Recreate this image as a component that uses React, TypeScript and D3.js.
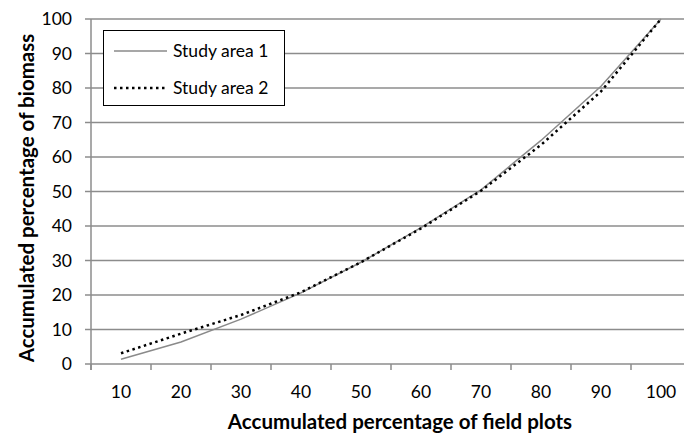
import React from 'react';
import { scaleBand, scaleLinear, line, range } from 'd3';

const categories = ['10', '20', '30', '40', '50', '60', '70', '80', '90', '100'];
const studyArea1 = [1.4, 6.4, 13.0, 20.6, 29.5, 39.5, 50.5, 64.8, 80.5, 100];
const studyArea2 = [3.1, 8.8, 14.2, 20.8, 29.5, 39.3, 50.2, 63.5, 79.0, 100];
const yTicks = range(0, 101, 10);
const seriesNames = ['Study area 1', 'Study area 2'];

const FONT = 'Lato, "Open Sans", sans-serif';

export default function App() {
  const margin = { top: 19, left: 91 };
  const width = 600, height = 345;

  const x = scaleBand().domain(categories).range([margin.left, margin.left + width]);
  const y = scaleLinear().domain([0, 100]).range([margin.top + height, margin.top]);

  const mkLine = (vals: number[]) =>
    line<number>()
      .x((_, i) => (x(categories[i]) as number) + x.bandwidth() / 2)
      .y((d) => y(d))(vals) as string;

  const gridColor = '#8c8c8c';

  return (
    <svg width={684} height={434} style={{ position: 'absolute', left: 0, top: 0, background: '#fff' }}>
      {/* horizontal gridlines + y ticks */}
      {yTicks.map((t) => (
        <g key={t}>
          {t > 0 && <line x1={margin.left} x2={684} y1={y(t)} y2={y(t)} stroke={gridColor} strokeWidth={1.5} />}
          <line x1={margin.left - 6} x2={margin.left} y1={y(t)} y2={y(t)} stroke={gridColor} strokeWidth={1.5} />
          <text x={72} y={y(t)} dy="0.36em" textAnchor="end" fontFamily={FONT} fontSize={17.5} fill="#000">{t}</text>
        </g>
      ))}
      {/* x axis */}
      <line x1={margin.left} x2={684} y1={y(0)} y2={y(0)} stroke={gridColor} strokeWidth={1.5} />
      {categories.map((c) => (
        <g key={c}>
          <line x1={x(c) as number} x2={x(c) as number} y1={y(0)} y2={y(0) + 6} stroke={gridColor} strokeWidth={1.5} />
          <text x={(x(c) as number) + x.bandwidth() / 2} y={398} textAnchor="middle" fontFamily={FONT} fontSize={17.5} fill="#000">{c}</text>
        </g>
      ))}
      {/* y axis */}
      <line x1={margin.left} x2={margin.left} y1={margin.top} y2={y(0) + 6} stroke={gridColor} strokeWidth={1.5} />

      {/* series */}
      <path d={mkLine(studyArea1)} fill="none" stroke="#8a8a8a" strokeWidth={1.5} />
      <path d={mkLine(studyArea2)} fill="none" stroke="#000" strokeWidth={2.5} strokeDasharray="2.5 3.5" />

      {/* legend */}
      <rect x={103.5} y={30.5} width={181} height={75} fill="#fff" stroke="#000" strokeWidth={1} />
      <line x1={114} x2={167} y1={51} y2={51} stroke="#8a8a8a" strokeWidth={1.5} />
      <text x={173} y={51} dy="0.36em" fontFamily={FONT} fontSize={17.5} fill="#000">{seriesNames[0]}</text>
      <line x1={114} x2={167} y1={88} y2={88} stroke="#000" strokeWidth={2.5} strokeDasharray="2.5 3.5" />
      <text x={173} y={88} dy="0.36em" fontFamily={FONT} fontSize={17.5} fill="#000">{seriesNames[1]}</text>

      {/* axis titles */}
      <text x={400} y={429} textAnchor="middle" fontFamily={FONT} fontWeight="bold" fontSize={20.5} fill="#000">
        Accumulated percentage of field plots
      </text>
      <text transform="translate(34,198) rotate(-90)" textAnchor="middle" fontFamily={FONT} fontWeight="bold" fontSize={20.5} fill="#000">
        Accumulated percentage of biomass
      </text>
    </svg>
  );
}
